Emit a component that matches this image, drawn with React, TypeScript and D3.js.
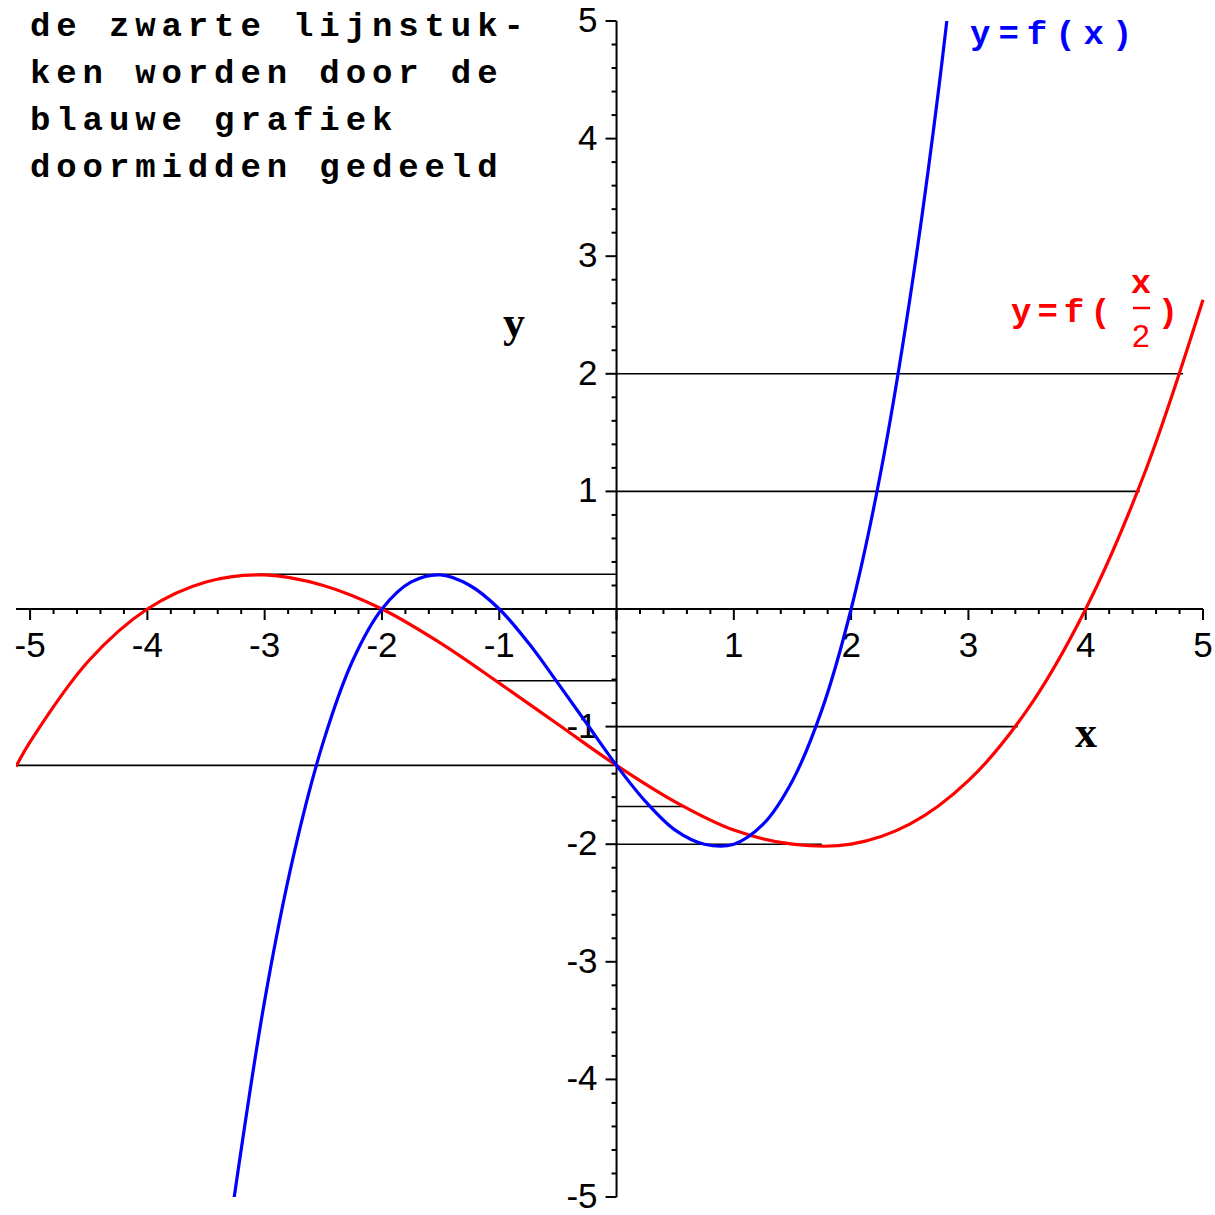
import React from "react";
import * as d3 from "d3";

// Curve readings (x, y)
const blueX = [-3.3, -3, -2.75, -2.5, -2.25, -2, -1.75, -1.5, -1.25, -1, -0.75, -0.5, -0.25, 0, 0.25, 0.5, 0.75, 1, 1.25, 1.5, 1.75, 2, 2.25, 2.5, 2.75, 3];
const blueY = [-5.28, -3.33, -2.08, -1.13, -0.44, 0, 0.23, 0.29, 0.2, 0, -0.29, -0.63, -0.98, -1.33, -1.64, -1.88, -2.0, -2.0, -1.83, -1.46, -0.86, 0, 1.15, 2.63, 4.45, 6.67];

const redX = [-5.12, -5, -4.5, -4, -3.5, -3, -2.5, -2, -1.5, -1, -0.5, 0, 0.5, 1, 1.5, 2, 2.5, 3, 3.5, 4, 4.5, 5];
const redY = [-1.34, -1.13, -0.44, 0, 0.23, 0.29, 0.2, 0, -0.29, -0.63, -0.98, -1.33, -1.64, -1.88, -2.0, -2.0, -1.83, -1.46, -0.86, 0, 1.15, 2.63];

// Black horizontal segments
const segY = [2, 1, 0.295, -0.61, -1, -1.33, -1.68, -2];
const segX1 = [0, 0, -3.06, -1.03, 0, -5.12, 0, 0];
const segX2 = [4.83, 4.46, 0, 0, 3.42, 0, 0.57, 1.75];

const xTickLabels = [-5, -4, -3, -2, -1, 1, 2, 3, 4, 5];
const yTickLabels = [-5, -4, -3, -2, -1, 1, 2, 3, 4, 5];

const noteLines = ["de zwarte lijnstuk-", "ken worden door de", "blauwe grafiek", "doormidden gedeeld"];

const X_DOMAIN: [number, number] = [-5.12, 5];
const Y_DOMAIN: [number, number] = [-5, 5];

export default function App() {
  const W = 1215, H = 1215;
  const x = d3.scaleLinear().domain(X_DOMAIN).range([16, 1203]);
  const y = d3.scaleLinear().domain(Y_DOMAIN).range([1197, 21]);

  const line = d3
    .line<[number, number]>()
    .x((d) => x(d[0]))
    .y((d) => y(d[1]))
    .curve(d3.curveCatmullRom.alpha(0.5));

  const bluePts = blueX.map((v, i) => [v, blueY[i]] as [number, number]);
  const redPts = redX.map((v, i) => [v, redY[i]] as [number, number]);

  const minor = d3.range(-25, 26).map((i) => i / 5);
  const isMajor = (v: number) => Math.abs(v - Math.round(v)) < 1e-9;

  const mono = "'Liberation Mono', 'DejaVu Sans Mono', monospace";
  const sans = "'Liberation Sans', Arial, sans-serif";
  const serif = "'Liberation Serif', 'Times New Roman', serif";

  return (
    <svg width={W} height={H} style={{ position: "absolute", left: 0, top: 0, background: "#fff" }}>
      <defs>
        <clipPath id="plotClip">
          <rect x={x(X_DOMAIN[0])} y={y(Y_DOMAIN[1])} width={x(X_DOMAIN[1]) - x(X_DOMAIN[0]) + 3} height={y(Y_DOMAIN[0]) - y(Y_DOMAIN[1])} />
        </clipPath>
      </defs>
      <rect width={W} height={H} fill="#fff" />

      {/* black segments */}
      {segY.map((v, i) => (
        <line key={"s" + i} x1={x(segX1[i])} x2={x(segX2[i])} y1={y(v)} y2={y(v)} stroke="#000" strokeWidth={1.6} />
      ))}

      {/* axes */}
      <line x1={x(X_DOMAIN[0])} x2={x(5)} y1={y(0)} y2={y(0)} stroke="#000" strokeWidth={2} />
      <line x1={x(0)} x2={x(0)} y1={y(-5)} y2={y(5)} stroke="#000" strokeWidth={2} />
      {minor.map((v) => (
        <line key={"xt" + v} x1={x(v)} x2={x(v)} y1={y(0)} y2={y(0) + (isMajor(v) ? 11 : 5)} stroke="#000" strokeWidth={2} />
      ))}
      {minor.map((v) => (
        <line key={"yt" + v} x1={x(0)} x2={x(0) - (isMajor(v) ? 11 : 5)} y1={y(v)} y2={y(v)} stroke="#000" strokeWidth={2} />
      ))}
      {xTickLabels.map((v) => (
        <text key={"xl" + v} x={x(v)} y={y(0) + 48} textAnchor="middle" fontFamily={sans} fontSize={35} fill="#000">
          {v}
        </text>
      ))}
      {yTickLabels.map((v) => (
        <text key={"yl" + v} x={x(0) - 19} y={y(v) + 11} textAnchor="end" fontFamily={sans} fontSize={35} fill="#000">
          {v}
        </text>
      ))}

      {/* curves */}
      <g clipPath="url(#plotClip)">
        <path d={line(redPts) || ""} fill="none" stroke="#ff0000" strokeWidth={3.2} />
        <path d={line(bluePts) || ""} fill="none" stroke="#0000ff" strokeWidth={3.2} />
      </g>

      {/* axis labels */}
      <text x={503} y={337} fontFamily={serif} fontWeight="bold" fontSize={44} fill="#000">y</text>
      <text x={1075} y={747} fontFamily={serif} fontWeight="bold" fontSize={44} fill="#000">x</text>

      {/* note */}
      {noteLines.map((s, i) => (
        <text key={"n" + i} x={30} y={36 + i * 47} fontFamily={mono} fontWeight="bold" fontSize={34} letterSpacing={5.9} fill="#000" style={{ whiteSpace: "pre" }}>
          {s}
        </text>
      ))}

      {/* curve labels */}
      <text x={970} y={44} fontFamily={mono} fontWeight="bold" fontSize={34} letterSpacing={8} fill="#0000ff">
        y=f(x)
      </text>
      <text x={1011} y={322} fontFamily={mono} fontWeight="bold" fontSize={34} letterSpacing={6} fill="#ff0000">
        y=f(
      </text>
      <text x={1141} y={293} textAnchor="middle" fontFamily={mono} fontWeight="bold" fontSize={34} fill="#ff0000">x</text>
      <line x1={1133} x2={1150} y1={308} y2={308} stroke="#ff0000" strokeWidth={2.5} />
      <text x={1141} y={347} textAnchor="middle" fontFamily={sans} fontSize={32} fill="#ff0000">2</text>
      <text x={1168} y={322} textAnchor="middle" fontFamily={mono} fontWeight="bold" fontSize={34} fill="#ff0000">)</text>
    </svg>
  );
}
